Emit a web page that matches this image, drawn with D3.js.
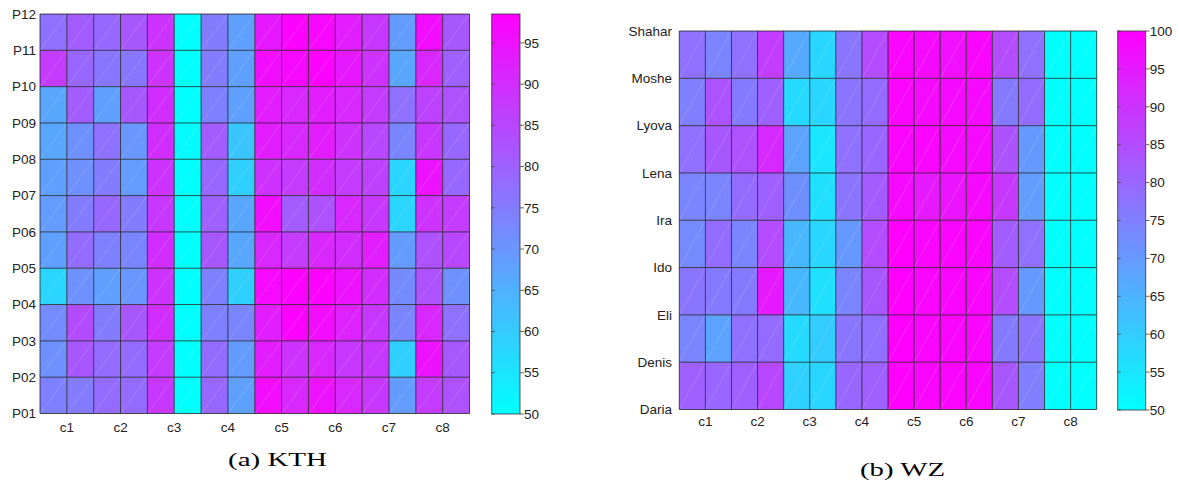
<!DOCTYPE html>
<html>
<head>
<meta charset="utf-8">
<script src="https://cdn.jsdelivr.net/npm/d3@7"></script>
<style>
  body { margin: 0; background: #fff; }
  svg { display: block; }
  text { font-family: "Liberation Sans", Arial, sans-serif; fill: #222; }
</style>
</head>
<body>
<svg id="chart" width="1179" height="482"></svg>
<script>
// tick labels sit on the grid lines (bottom to top)
const kthRowLabels = ["P01", "P02", "P03", "P04", "P05", "P06", "P07", "P08", "P09", "P10", "P11", "P12"];
const wzRowLabels = ["Daria", "Denis", "Eli", "Ido", "Ira", "Lena", "Lyova", "Moshe", "Shahar"];
const colLabels = ["c1", "c2", "c3", "c4", "c5", "c6", "c7", "c8"];
const kthTicks = [50, 55, 60, 65, 70, 75, 80, 85, 90, 95];
const wzTicks = [50, 55, 60, 65, 70, 75, 80, 85, 90, 95, 100];

// cell values, rows listed top to bottom, 16 cells per row
const kthValues = [
  [77, 81, 79, 82, 89, 50, 75, 68, 94, 98, 97, 93, 88, 69, 96, 82],
  [87, 79, 76, 76, 89, 50, 75, 68, 96, 97, 98, 94, 89, 67, 91, 80],
  [67, 81, 68, 82, 90, 50, 74, 68, 93, 91, 93, 91, 87, 77, 86, 83],
  [67, 71, 77, 70, 90, 51, 81, 61, 93, 91, 93, 89, 85, 73, 88, 79],
  [68, 71, 75, 69, 89, 50, 79, 59, 89, 87, 90, 87, 86, 58, 95, 79],
  [69, 75, 79, 75, 88, 50, 80, 67, 96, 81, 83, 91, 88, 58, 89, 87],
  [68, 78, 74, 73, 90, 50, 82, 67, 91, 87, 91, 90, 93, 69, 83, 85],
  [58, 71, 68, 70, 89, 50, 74, 59, 97, 98, 98, 95, 90, 72, 83, 71],
  [72, 84, 75, 82, 90, 50, 74, 73, 93, 98, 96, 92, 88, 73, 91, 77],
  [71, 82, 78, 78, 87, 50, 78, 69, 93, 89, 91, 88, 88, 59, 95, 82],
  [74, 75, 78, 78, 88, 50, 79, 68, 96, 91, 95, 91, 88, 69, 87, 83]
];
const wzValues = [
  [78, 74, 78, 88, 67, 58, 77, 85, 99, 98, 97, 99, 85, 78, 50, 50],
  [75, 84, 76, 81, 57, 58, 77, 79, 99, 98, 98, 98, 76, 79, 50, 50],
  [78, 83, 84, 92, 68, 55, 78, 80, 99, 99, 98, 98, 84, 70, 50, 50],
  [74, 74, 79, 81, 72, 56, 77, 82, 98, 95, 96, 98, 89, 69, 50, 50],
  [73, 79, 74, 85, 64, 58, 70, 85, 100, 99, 99, 99, 82, 78, 50, 50],
  [77, 76, 76, 95, 64, 56, 74, 83, 100, 99, 99, 99, 85, 70, 50, 50],
  [74, 68, 78, 79, 57, 60, 77, 78, 100, 99, 99, 99, 76, 77, 50, 50],
  [81, 80, 81, 86, 59, 58, 80, 81, 100, 99, 99, 99, 83, 75, 50, 50]
];

const svg = d3.select("#chart");

// gnuplot-like "cool" palette: cyan -> magenta
function cool(t) {
  t = Math.max(0, Math.min(1, t));
  return d3.rgb(Math.round(255 * t), Math.round(255 * (1 - t)), 255).formatHex();
}

function heatmap(opts) {
  const { values, rowLabels, box, bar, cbMax, ticks, id, xLabelY, yLabelX, caption } = opts;
  const nRows = values.length, nCols = values[0].length;
  const x = d3.scaleLinear().domain([0, nCols]).range([box.x0, box.x1]);
  const y = d3.scaleLinear().domain([0, nRows]).range([box.y0, box.y1]);
  const c = d3.scaleLinear().domain([50, cbMax]).range([0, 1]);

  const g = svg.append("g");

  const cells = [];
  values.forEach((row, r) => row.forEach((v, k) => cells.push({ r, k, v })));

  g.selectAll("rect.cell").data(cells).enter().append("rect")
    .attr("x", d => x(d.k)).attr("y", d => y(d.r))
    .attr("width", x(1) - x(0)).attr("height", y(1) - y(0))
    .attr("fill", d => cool(c(d.v)));

  // faint triangle seams
  g.selectAll("line.seam").data(cells).enter().append("line")
    .attr("x1", d => x(d.k)).attr("y1", d => y(d.r + 1))
    .attr("x2", d => x(d.k + 1)).attr("y2", d => y(d.r))
    .attr("stroke", "#fff").attr("stroke-opacity", 0.28).attr("stroke-width", 0.6);

  // grid lines
  g.selectAll("line.v").data(d3.range(nCols + 1)).enter().append("line")
    .attr("x1", d => x(d)).attr("x2", d => x(d))
    .attr("y1", box.y0).attr("y2", box.y1)
    .attr("stroke", "#1a1a1a").attr("stroke-opacity", 0.75).attr("stroke-width", 1);
  g.selectAll("line.h").data(d3.range(nRows + 1)).enter().append("line")
    .attr("x1", box.x0).attr("x2", box.x1)
    .attr("y1", d => y(d)).attr("y2", d => y(d))
    .attr("stroke", "#1a1a1a").attr("stroke-opacity", 0.75).attr("stroke-width", 1);

  // y labels on grid lines (first label at bottom)
  g.selectAll("text.yl").data(rowLabels).enter().append("text")
    .attr("x", yLabelX).attr("y", (d, i) => y(nRows - i))
    .attr("dy", "0.35em").attr("text-anchor", "end")
    .style("font-size", "13.5px").text(d => d);

  // x labels between each pair of columns
  g.selectAll("text.xl").data(colLabels).enter().append("text")
    .attr("x", (d, i) => x(2 * i + 1)).attr("y", xLabelY)
    .attr("dy", "0.35em").attr("text-anchor", "middle")
    .style("font-size", "13.5px").text(d => d);

  // colour bar
  const cy = d3.scaleLinear().domain([50, cbMax]).range([bar.y1, bar.y0]);
  const grad = svg.append("defs").append("linearGradient")
    .attr("id", id).attr("x1", 0).attr("y1", 1).attr("x2", 0).attr("y2", 0);
  d3.range(0, 1.001, 0.1).forEach(t => {
    grad.append("stop").attr("offset", t).attr("stop-color", cool(t));
  });
  g.append("rect")
    .attr("x", bar.x0).attr("y", bar.y0)
    .attr("width", bar.x1 - bar.x0).attr("height", bar.y1 - bar.y0)
    .attr("fill", `url(#${id})`)
    .attr("stroke", "#333").attr("stroke-opacity", 0.8).attr("stroke-width", 1);

  g.selectAll("line.cbl").data(ticks).enter().append("line")
    .attr("x1", bar.x0).attr("x2", bar.x0 + 3)
    .attr("y1", d => cy(d)).attr("y2", d => cy(d))
    .attr("stroke", "#444").attr("stroke-width", 0.8);
  g.selectAll("line.cbr").data(ticks).enter().append("line")
    .attr("x1", bar.x1).attr("x2", bar.x1 + 4)
    .attr("y1", d => cy(d)).attr("y2", d => cy(d))
    .attr("stroke", "#444").attr("stroke-width", 0.8);
  g.selectAll("text.cb").data(ticks).enter().append("text")
    .attr("x", bar.x1 + 4).attr("y", d => cy(d))
    .attr("dy", "0.35em")
    .style("font-size", "13.5px").text(d => d);

  // caption
  g.append("text")
    .attr("x", caption.x).attr("y", caption.y)
    .attr("textLength", caption.w).attr("lengthAdjust", "spacingAndGlyphs")
    .style("font-family", "'Liberation Serif', 'DejaVu Serif', serif")
    .style("font-size", "19.5px").style("fill", "#000")
    .text(caption.text);
}

heatmap({
  id: "cbKth",
  values: kthValues,
  rowLabels: kthRowLabels,
  box: { x0: 40, x1: 469.5, y0: 14, y1: 413.5 },
  bar: { x0: 491.7, x1: 520, y0: 14, y1: 414 },
  cbMax: 98.5,
  ticks: kthTicks,
  xLabelY: 427,
  yLabelX: 36,
  caption: { text: "(a) KTH", x: 228, y: 466, w: 99 }
});

heatmap({
  id: "cbWz",
  values: wzValues,
  rowLabels: wzRowLabels,
  box: { x0: 679.3, x1: 1096.7, y0: 31, y1: 409.5 },
  bar: { x0: 1117.7, x1: 1145.7, y0: 31, y1: 410 },
  cbMax: 100,
  ticks: wzTicks,
  xLabelY: 421,
  yLabelX: 672,
  caption: { text: "(b) WZ", x: 860, y: 475.5, w: 85 }
});
</script>
</body>
</html>
